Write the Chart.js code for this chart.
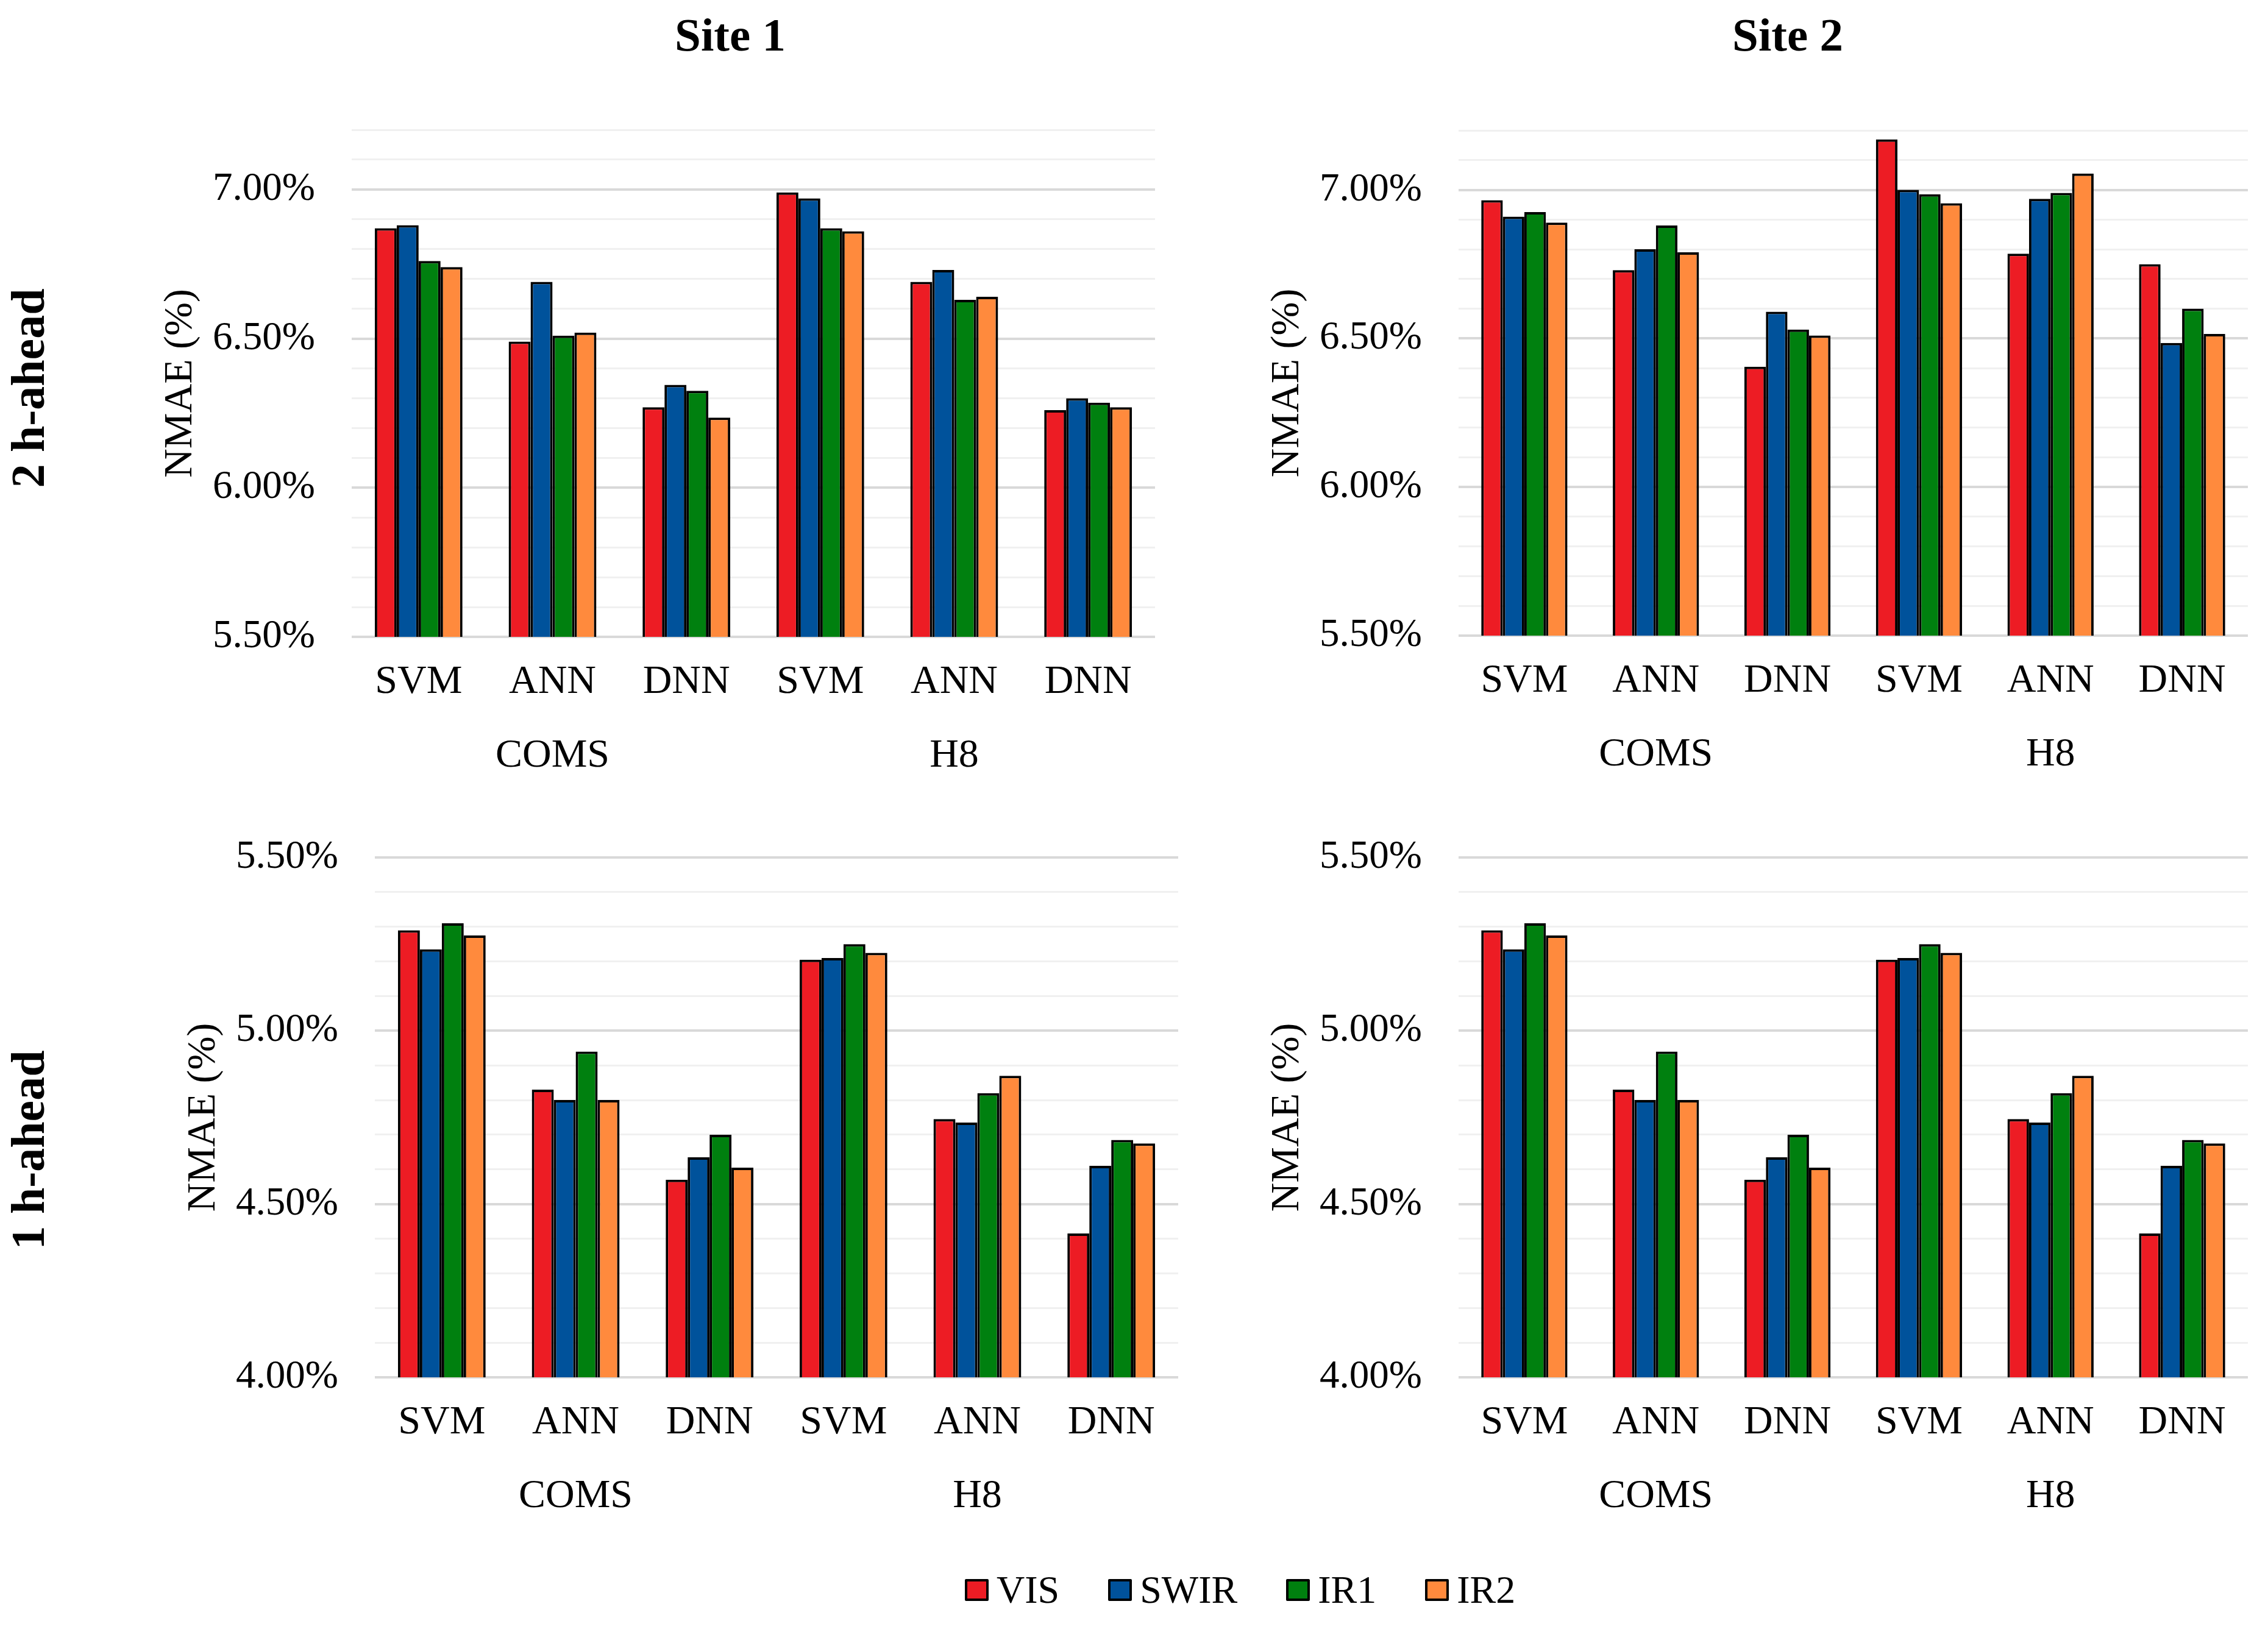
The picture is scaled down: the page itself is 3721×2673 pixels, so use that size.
<!DOCTYPE html>
<html>
<head>
<meta charset="utf-8">
<script src="https://cdn.jsdelivr.net/npm/chart.js@4.4.1/dist/chart.umd.min.js"></script>
<style>
  html, body { margin: 0; padding: 0; background: #fff; }
  body { width: 3721px; height: 2673px; position: relative; overflow: hidden;
         font-family: "Liberation Serif", "Times New Roman", serif; color: #000; }
  canvas { position: absolute; }
  .title { position: absolute; font-weight: bold; font-size: 77px; line-height: 1;
           transform: translate(-50%, -50%); white-space: nowrap; }
  .row { position: absolute; font-weight: bold; font-size: 78px; line-height: 1;
         transform: translate(-50%, -50%) rotate(-90deg); white-space: nowrap; }
  #legend { position: absolute; left: 1583px; top: 2609px; transform: translateY(-50%);
            display: flex; align-items: center; font-size: 64px; line-height: 1; }
  .item { display: flex; align-items: center; margin-right: 80px; }
  .item:last-child { margin-right: 0; }
  .swatch { width: 31px; height: 28px; border: 4px solid #000; border-radius: 2px; margin-right: 13px; }
</style>
</head>
<body>
<div class="title" style="left:1198px; top:57px;">Site 1</div>
<div class="title" style="left:2933px; top:57px;">Site 2</div>
<div class="row" style="left:46px; top:637px;">2 h-ahead</div>
<div class="row" style="left:46px; top:1887px;">1 h-ahead</div>

<canvas id="c11"></canvas>
<canvas id="c12"></canvas>
<canvas id="c21"></canvas>
<canvas id="c22"></canvas>
<div id="legend"></div>

<script>
// categories
const models = ['SVM', 'ANN', 'DNN', 'SVM', 'ANN', 'DNN'];
const satellites = ['COMS', 'H8'];
const bands = ['VIS', 'SWIR', 'IR1', 'IR2'];
const bandColors = ['#ED1C24', '#00529B', '#00800F', '#FF8A3D'];

// y tick values (only multiples of 0.5 get a label)
const ticks2h = [5.5, 5.6, 5.7, 5.8, 5.9, 6.0, 6.1, 6.2, 6.3, 6.4, 6.5, 6.6, 6.7, 6.8, 6.9, 7.0, 7.1, 7.2];
const ticks1h = [4.0, 4.1, 4.2, 4.3, 4.4, 4.5, 4.6, 4.7, 4.8, 4.9, 5.0, 5.1, 5.2, 5.3, 5.4, 5.5];

// Site 1, 2 h-ahead (NMAE %)
const s1h2VIS  = [6.87, 6.49, 6.27, 6.99, 6.69, 6.26];
const s1h2SWIR = [6.88, 6.69, 6.345, 6.97, 6.73, 6.30];
const s1h2IR1  = [6.76, 6.51, 6.325, 6.87, 6.63, 6.285];
const s1h2IR2  = [6.74, 6.52, 6.235, 6.86, 6.64, 6.27];

// Site 2, 2 h-ahead
const s2h2VIS  = [6.965, 6.73, 6.405, 7.17, 6.785, 6.75];
const s2h2SWIR = [6.91, 6.80, 6.59, 7.00, 6.97, 6.485];
const s2h2IR1  = [6.925, 6.88, 6.53, 6.985, 6.99, 6.60];
const s2h2IR2  = [6.89, 6.79, 6.51, 6.955, 7.055, 6.515];

// Site 1, 1 h-ahead
const s1h1VIS  = [5.29, 4.83, 4.57, 5.205, 4.745, 4.415];
const s1h1SWIR = [5.235, 4.80, 4.635, 5.21, 4.735, 4.61];
const s1h1IR1  = [5.31, 4.94, 4.70, 5.25, 4.82, 4.685];
const s1h1IR2  = [5.275, 4.80, 4.605, 5.225, 4.87, 4.675];

// Site 2, 1 h-ahead
const s2h1VIS  = [5.29, 4.83, 4.57, 5.205, 4.745, 4.415];
const s2h1SWIR = [5.235, 4.80, 4.635, 5.21, 4.735, 4.61];
const s2h1IR1  = [5.31, 4.94, 4.70, 5.25, 4.82, 4.685];
const s2h1IR2  = [5.275, 4.80, 4.605, 5.225, 4.87, 4.675];

Chart.defaults.font.family = '"Liberation Serif", "Times New Roman", serif';
Chart.defaults.color = '#000';

const isMajor = v => Math.round(v * 10) % 5 === 0;

function buildChart(canvas, series, ticks) {
  return new Chart(canvas, {
    type: 'bar',
    data: {
      labels: models,
      datasets: series.map((vals, i) => ({
        label: bands[i],
        data: vals,
        backgroundColor: bandColors[i],
        borderColor: '#000',
        borderWidth: 4,
        borderSkipped: false,
        barPercentage: 1.0,
        categoryPercentage: 0.655
      }))
    },
    options: {
      responsive: false,
      animation: false,
      devicePixelRatio: 1,
      layout: { padding: { top: 50, right: 30, left: 0, bottom: 0 } },
      plugins: { legend: { display: false }, tooltip: { enabled: false } },
      scales: {
        x: {
          grid: { display: false, drawTicks: false },
          border: { display: false },
          ticks: { font: { size: 66 }, padding: 35, maxRotation: 0, autoSkip: false },
          afterFit: s => { s.height = 150; }
        },
        x2: {
          type: 'category',
          labels: satellites,
          position: 'bottom',
          weight: 1,
          grid: { display: false, drawTicks: false },
          border: { display: false },
          ticks: { font: { size: 66 }, padding: 6, maxRotation: 0 },
          afterFit: s => { s.height = 120; }
        },
        y: {
          min: ticks[0],
          max: ticks[ticks.length - 1],
          border: { display: false },
          grid: {
            drawTicks: false,
            color: c => isMajor(c.tick.value) ? '#D9D9D9' : '#F0F0F0',
            lineWidth: c => isMajor(c.tick.value) ? 4 : 3
          },
          afterBuildTicks: s => { s.ticks = ticks.map(v => ({ value: v })); },
          ticks: {
            autoSkip: false,
            padding: 60,
            font: { size: 65 },
            callback: v => isMajor(v) ? v.toFixed(2) + '%' : ''
          },
          title: { display: true, text: 'NMAE (%)', font: { size: 66 }, padding: { top: 10, bottom: 0 } },
          afterFit: s => { s.width = 330; }
        }
      }
    }
  });
}

// build once, measure the plot area, rebuild so the plot area lands on box
function makePanel(id, box, series, ticks) {
  const canvas = document.getElementById(id);
  const plotW = box.plotRight - box.plotLeft;
  const plotH = box.plotBottom - box.plotTop;
  let w = plotW + 360, h = plotH + 320;
  canvas.width = w; canvas.height = h;
  let chart = buildChart(canvas, series, ticks);
  let a = chart.chartArea;
  w += plotW - (a.right - a.left);
  h += plotH - (a.bottom - a.top);
  chart.destroy();
  canvas.width = w; canvas.height = h;
  chart = buildChart(canvas, series, ticks);
  a = chart.chartArea;
  canvas.style.left = (box.plotLeft - a.left) + 'px';
  canvas.style.top = (box.plotTop - a.top) + 'px';
}

makePanel('c11', { plotLeft: 577, plotRight: 1895, plotTop: 213, plotBottom: 1045 },
  [s1h2VIS, s1h2SWIR, s1h2IR1, s1h2IR2], ticks2h);
makePanel('c12', { plotLeft: 2393, plotRight: 3688, plotTop: 214, plotBottom: 1043 },
  [s2h2VIS, s2h2SWIR, s2h2IR1, s2h2IR2], ticks2h);
makePanel('c21', { plotLeft: 615, plotRight: 1933, plotTop: 1407, plotBottom: 2260 },
  [s1h1VIS, s1h1SWIR, s1h1IR1, s1h1IR2], ticks1h);
makePanel('c22', { plotLeft: 2393, plotRight: 3688, plotTop: 1407, plotBottom: 2260 },
  [s2h1VIS, s2h1SWIR, s2h1IR1, s2h1IR2], ticks1h);

// legend
const legend = document.getElementById('legend');
bands.forEach((b, i) => {
  const item = document.createElement('div');
  item.className = 'item';
  const sw = document.createElement('div');
  sw.className = 'swatch';
  sw.style.background = bandColors[i];
  const t = document.createElement('span');
  t.textContent = b;
  item.appendChild(sw);
  item.appendChild(t);
  legend.appendChild(item);
});
</script>
</body>
</html>
